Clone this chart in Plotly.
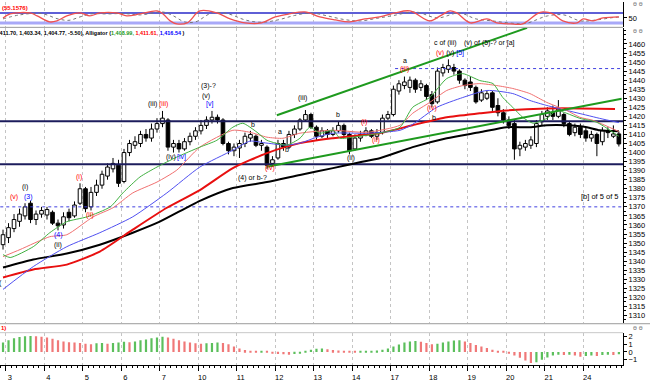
import plotly.graph_objects as go

# ---------------- data ----------------
day_labels = ["3", "4", "5", "6", "7", "10", "11", "12", "13", "14",
              "17", "18", "19", "20", "21", "24"]

bar_open = [1349.1, 1353.0, 1358.0, 1362.0, 1365.0, 1372.0, 1363.0, 1366.0, 1365.5, 1367.0,
            1361.0, 1360.0, 1367.0, 1365.0, 1372.0, 1380.0, 1370.0, 1378.0, 1382.0, 1387.0,
            1391.0, 1393.0, 1384.0, 1400.0, 1404.0, 1405.0, 1410.0, 1408.0, 1413.0, 1416.0,
            1418.0, 1403.0, 1405.0, 1402.0, 1406.0, 1409.0, 1412.0, 1415.0, 1418.0, 1419.5,
            1418.0, 1405.0, 1401.0, 1402.5, 1405.0, 1408.0, 1409.0, 1404.0, 1403.0, 1394.0,
            1397.0, 1405.0, 1403.0, 1410.0, 1413.0, 1418.0, 1421.0, 1414.0, 1409.0, 1412.0,
            1410.0, 1412.0, 1415.0, 1410.0, 1402.0, 1408.0, 1410.0, 1412.0, 1409.0, 1411.0,
            1419.0, 1421.0, 1434.0, 1437.0, 1436.0, 1440.0, 1436.0, 1437.0, 1432.0, 1428.0,
            1444.0, 1446.0, 1447.0, 1445.0, 1440.0, 1439.0, 1436.0, 1429.0, 1430.0, 1433.0,
            1426.0, 1422.0, 1418.0, 1416.0, 1402.0, 1403.0, 1404.0, 1405.0, 1417.0, 1420.0,
            1422.0, 1420.0, 1421.0, 1416.0, 1411.0, 1414.0, 1412.0, 1408.0, 1410.0, 1406.0,
            1412.0, 1409.0, 1410.3]
bar_high = [1357.4, 1361.0, 1366.0, 1369.0, 1372.0, 1373.5, 1368.0, 1370.0, 1370.0, 1368.0,
            1363.0, 1367.0, 1369.0, 1373.0, 1383.0, 1381.0, 1381.0, 1385.0, 1390.0, 1394.0,
            1397.0, 1396.0, 1402.0, 1407.0, 1409.0, 1412.0, 1413.0, 1416.0, 1419.0, 1423.0,
            1419.0, 1407.0, 1407.0, 1408.0, 1411.0, 1414.0, 1418.0, 1420.0, 1423.0, 1421.0,
            1419.0, 1406.0, 1405.0, 1407.0, 1411.0, 1412.0, 1410.0, 1407.0, 1404.0, 1398.0,
            1407.0, 1407.0, 1412.0, 1415.0, 1419.0, 1423.5, 1422.0, 1415.0, 1414.0, 1413.0,
            1414.0, 1417.0, 1416.0, 1411.0, 1410.0, 1412.0, 1414.0, 1413.0, 1413.0, 1421.0,
            1423.0, 1437.0, 1440.0, 1442.0, 1442.0, 1441.0, 1440.0, 1438.0, 1434.0, 1447.0,
            1449.0, 1451.5, 1449.0, 1446.0, 1441.0, 1442.0, 1437.0, 1435.0, 1434.0, 1434.0,
            1430.0, 1424.0, 1420.0, 1418.0, 1406.0, 1407.0, 1409.0, 1418.0, 1423.0, 1425.0,
            1426.0, 1429.0, 1422.0, 1417.0, 1416.0, 1416.0, 1414.0, 1412.0, 1411.0, 1414.0,
            1414.0, 1415.0, 1411.70]
bar_low = [1346.4, 1350.0, 1356.0, 1359.0, 1363.0, 1361.0, 1360.0, 1364.0, 1363.0, 1360.0,
           1357.0, 1358.0, 1362.0, 1364.0, 1371.0, 1367.0, 1368.0, 1376.0, 1380.0, 1385.0,
           1389.0, 1381.0, 1383.0, 1398.0, 1402.0, 1403.0, 1406.0, 1406.0, 1411.0, 1414.0,
           1401.0, 1400.0, 1400.0, 1401.0, 1404.0, 1407.0, 1410.0, 1413.0, 1416.0, 1416.0,
           1404.0, 1399.0, 1398.0, 1397.0, 1403.0, 1406.0, 1403.0, 1401.0, 1391.0, 1392.0,
           1396.0, 1401.0, 1402.0, 1408.0, 1412.0, 1417.0, 1413.0, 1407.0, 1408.0, 1408.0,
           1409.0, 1411.0, 1409.0, 1399.0, 1401.0, 1406.0, 1409.0, 1408.0, 1407.0, 1410.0,
           1418.0, 1420.0, 1432.0, 1435.0, 1433.0, 1433.0, 1434.0, 1429.0, 1425.0, 1427.0,
           1442.0, 1444.0, 1443.0, 1438.0, 1435.0, 1434.0, 1427.0, 1428.0, 1429.0, 1423.0,
           1420.0, 1416.0, 1413.0, 1396.0, 1398.0, 1401.0, 1402.0, 1403.0, 1415.0, 1418.0,
           1418.0, 1419.0, 1414.0, 1409.0, 1409.0, 1408.0, 1406.0, 1406.0, 1398.0, 1404.0,
           1408.0, 1408.0, 1403.34]
bar_close = [1354.6, 1358.5, 1363.0, 1366.0, 1370.0, 1363.0, 1366.0, 1368.0, 1368.5, 1361.0,
             1359.5, 1364.5, 1364.0, 1371.0, 1380.0, 1369.0, 1378.0, 1382.0, 1388.0, 1392.0,
             1394.0, 1383.0, 1400.0, 1405.0, 1406.0, 1410.0, 1408.0, 1413.0, 1416.0, 1419.0,
             1403.0, 1405.0, 1402.0, 1406.0, 1409.0, 1412.0, 1415.0, 1418.0, 1419.5, 1418.0,
             1405.0, 1401.0, 1403.0, 1405.0, 1409.0, 1410.0, 1404.0, 1405.0, 1393.0, 1396.0,
             1405.0, 1403.0, 1410.0, 1413.0, 1418.0, 1421.0, 1414.0, 1409.0, 1412.0, 1410.0,
             1412.0, 1415.0, 1410.0, 1401.0, 1408.0, 1410.0, 1412.0, 1409.0, 1411.0, 1419.0,
             1421.0, 1435.0, 1438.0, 1439.0, 1440.0, 1435.0, 1438.0, 1431.0, 1427.0, 1445.0,
             1447.0, 1448.0, 1445.0, 1440.0, 1437.0, 1436.0, 1428.0, 1433.0, 1432.5, 1425.0,
             1422.0, 1418.0, 1415.0, 1402.0, 1404.0, 1405.0, 1407.0, 1416.0, 1421.0, 1423.0,
             1420.0, 1424.0, 1416.0, 1410.0, 1414.0, 1410.0, 1408.0, 1410.0, 1405.0, 1412.0,
             1411.0, 1410.27, 1404.77]

# Alligator lines (bar position, value)
lips_x = [0, 1.3, 5.5, 8.5, 11.6, 15.3, 19.5, 21.8, 24.9, 28, 31.6, 35.8, 38.9, 41.8, 43.6,
          46.2, 48, 51.6, 54, 55.8, 57.6, 60, 61.3, 63.6, 68.5, 72.2, 74.5, 77.6, 80.7, 83.6,
          86.7, 89.1, 90.9, 92.7, 94.5, 96.4, 98.9, 100.7, 102.5, 104.9, 108, 112]
lips_y = [1343.6, 1342.0, 1348.0, 1355.7, 1361.8, 1364.5, 1370.0, 1377.7, 1386.5, 1392.0,
          1397.5, 1403.0, 1406.8, 1414.0, 1416.2, 1411.2, 1406.8, 1404.1, 1407.9, 1414.0,
          1410.7, 1412.3, 1407.9, 1408.5, 1410.7, 1414.0, 1425.0, 1430.4, 1440.9, 1443.6,
          1439.8, 1438.1, 1430.4, 1425.0, 1419.5, 1416.2, 1418.9, 1423.3, 1421.7, 1418.9,
          1416.7, 1408.99]
teeth_x = [0, 3.1, 8.5, 11.6, 16.4, 20, 23.6, 28, 31.6, 35.8, 41.8, 44.9, 48, 50.9, 54, 60,
           66.2, 72.2, 74.5, 77.6, 80.7, 83.6, 86.7, 89.8, 92.7, 95.8, 98.9, 102.5, 104.9,
           107.3, 112]
teeth_y = [1342.5, 1346.4, 1353.5, 1354.6, 1364.5, 1369.5, 1377.7, 1383.7, 1390.3, 1403.0,
           1412.3, 1411.2, 1408.5, 1407.9, 1410.7, 1412.3, 1411.2, 1415.1, 1421.7, 1427.7,
           1434.3, 1437.0, 1438.1, 1437.0, 1435.4, 1432.6, 1427.7, 1423.3, 1419.5, 1417.8,
           1411.61]
jaw_x = [0, 5.5, 11.6, 17.6, 23.6, 29.8, 35.8, 41.8, 44.9, 48, 51.6, 54, 57.1, 60, 66.2,
         72.2, 74.5, 78.9, 83.6, 88, 92.7, 95.8, 98.9, 102.5, 106.2, 108.5, 112]
jaw_y = [1324.4, 1337.0, 1348.0, 1355.7, 1364.5, 1377.7, 1392.0, 1401.3, 1406.3, 1405.2,
         1404.1, 1405.2, 1408.5, 1410.7, 1410.7, 1412.3, 1415.6, 1425.0, 1430.4, 1434.3,
         1432.6, 1428.8, 1426.0, 1423.3, 1420.6, 1418.9, 1416.54]

# longer moving averages
ma_red_x = [0, 5.5, 11.6, 17.6, 23.6, 29.8, 35.8, 41.8, 48, 54, 60, 64.9, 68.5, 74.5, 80.7,
            86.7, 91.6, 98.9, 104.9, 111.3]
ma_red_y = [1331.0, 1335.4, 1338.1, 1345.3, 1357.4, 1369.5, 1379.3, 1391.4, 1399.7, 1405.2,
            1407.9, 1409.6, 1410.7, 1415.1, 1419.5, 1421.7, 1423.3, 1424.4, 1424.4, 1424.0]
ma_black_x = [0, 5.5, 11.6, 17.6, 23.6, 28.5, 35.8, 41.8, 48, 54, 60, 64.9, 68.5, 74.5,
              80.7, 86.7, 91.6, 95.8, 98.9, 102.5, 106.2, 108.5, 112]
ma_black_y = [1336.5, 1340.9, 1344.2, 1349.1, 1355.7, 1361.8, 1373.3, 1380.4, 1383.7, 1387.6,
              1391.4, 1394.7, 1396.9, 1403.0, 1407.9, 1411.2, 1414.0, 1414.0, 1415.1, 1415.1,
              1414.0, 1412.3, 1411.8]

# trend lines and levels
trend_upper_x = [49.8, 95.3]
trend_upper_y = [1420.6, 1468.9]
trend_lower_x = [48.0, 112.5]
trend_lower_y = [1392.2, 1429.7]
solid_levels = [1417.3, 1393.6]
dotted_levels = [1446.4, 1370.0]
dotted_from = [71.3, -0.5]

# oscillator (top panel)
osc_x = [0, 1.3, 4.9, 6.2, 8.5, 9.8, 11.6, 14, 15.8, 17.6, 20.7, 22.5, 24.9, 28, 29.1, 30.4,
         31.6, 33.5, 35.8, 38.9, 41.3, 44, 47, 49.5, 52, 54.9, 57.6, 60.4, 63, 65.8, 68.5,
         71.3, 74, 77.6, 79.5, 81.3, 82.5, 85, 88, 89.8, 92.2, 94.5, 97.1, 98.2, 100, 101.8,
         104.4, 105.5, 107.3, 109.1, 112]
osc_y = [50, 70, 75, 60, 30, 35, 60, 75, 60, 75, 75, 60, 70, 85, 70, 35, 20, 25, 85, 75, 45,
         25, 25, 55, 70, 80, 55, 40, 30, 45, 55, 75, 85, 35, 60, 85, 75, 25, 45, 25, 20, 20,
         70, 80, 70, 35, 25, 45, 35, 50, 55.1576]
sig_x = [0, 3, 7, 10, 12, 14, 16, 19, 22, 25, 29, 31, 33, 35, 38, 41, 44, 47, 50, 53, 56, 59,
         62, 65, 68, 71, 75, 79, 83, 86, 89, 92, 95, 99, 102, 105, 108, 111, 112]
sig_y = [45, 65, 72, 45, 38, 55, 70, 70, 72, 65, 80, 60, 30, 30, 75, 70, 40, 28, 40, 62, 75,
         60, 42, 35, 48, 62, 80, 50, 75, 45, 35, 25, 22, 60, 65, 35, 40, 52, 54]
osc_levels = [75, 25]

# awesome oscillator (bottom panel)
ao_values = [1.2, 1.5, 1.75, 1.9, 2.0, 2.05, 2.0, 1.95, 1.85, 1.7, 1.5, 1.35, 1.25, 1.2, 1.15,
             1.05, 1.0, 1.1, 1.15, 1.05, 1.15, 1.2, 1.3, 1.25, 1.35, 1.5, 1.6, 1.75, 1.85, 1.95,
             1.85, 1.7, 1.5, 1.35, 1.2, 1.1, 1.05, 1.1, 1.15, 1.2, 1.15, 1.0, 0.7, 0.45, 0.25,
             0.15, 0.12, 0.13, 0.08, -0.1, -0.25, -0.3, -0.35, -0.25, -0.1, 0.15, 0.3, 0.4,
             0.45, 0.35, 0.25, 0.2, 0.15, 0.1, 0.08, 0.1, 0.12, 0.15, 0.2, 0.3, 0.45, 0.7, 0.95,
             1.2, 1.35, 1.4, 1.3, 1.15, 1.0, 1.05, 1.2, 1.35, 1.45, 1.5, 1.35, 1.15, 0.9, 0.7,
             0.5, 0.3, 0.15, 0.05, -0.15, -0.45, -0.75, -1.1, -1.4, -1.3, -1.0, -0.7, -0.45,
             -0.35, -0.4, -0.35, -0.45, -0.6, -0.5, -0.45, -0.5, -0.4, -0.35, -0.38, -0.3]

# wave labels: text, bar position, price, colour
wave_text = ["(i)", "(v)", "(3)", "(4)", "(ii)", "(i)", "(ii)", "(iii)", "(iii)", "(iv)",
             "[iv]", "(3)-?", "(v)", "[v]", "b", "a", "b", "(iv)", "(4) or b-?", "(iii)", "b",
             "(ii)", "(i)", "(ii)", "a", "(iii)", "(iv)", "b", "c of (iii)",
             "(v) of (5)-? or [a]", "("]
wave_x = [4.0, 2.0, 4.6, 10.0, 10.0, 13.8, 15.8, 27.1, 29.1, 30.5, 32.4, 37.3, 36.9, 37.6,
          45.5, 50.4, 51.6, 48.6, 45.3, 54.5, 60.9, 63.3, 65.6, 67.8, 73.1, 73.1, 78.0, 78.3,
          80.5, 88.5, -0.4]
wave_y = [1381.0, 1375.5, 1375.5, 1354.2, 1348.8, 1386.5, 1365.6, 1427.1, 1427.1, 1397.5,
          1397.5, 1437.0, 1431.5, 1427.1, 1415.6, 1411.8, 1401.9, 1391.3, 1386.0, 1430.4,
          1421.1, 1396.9, 1416.7, 1406.8, 1450.8, 1446.2, 1424.6, 1419.5, 1460.7, 1460.7,
          1328.2]
wave_color = ["black", "red", "blue", "blue", "black", "red", "red", "black", "red", "black",
              "blue", "black", "black", "blue", "black", "black", "black", "red", "black",
              "black", "black", "black", "red", "red", "black", "red", "red", "black", "black",
              "black", "black"]

# ---------------- figure ----------------
H_PLOT = 366.0  # plot area height in px (margin b=16)


def py(p):
    return (H_PLOT - p) / H_PLOT


n = len(bar_close)
idx = list(range(n))
fig = go.Figure()

# candle bodies
body_base = [min(o, c) for o, c in zip(bar_open, bar_close)]
body_h = [abs(c - o) for o, c in zip(bar_open, bar_close)]
body_fill = ["white" if c >= o else "black" for o, c in zip(bar_open, bar_close)]
fig.add_trace(go.Bar(x=idx, y=body_h, base=body_base, width=0.66, yaxis="y2",
                     marker=dict(color=body_fill, line=dict(color="black", width=1)),
                     hoverinfo="skip", showlegend=False))
# wicks (outside the bodies)
wx, wy = [], []
for i, o, h, l, c in zip(idx, bar_open, bar_high, bar_low, bar_close):
    wx += [i, i, None, i, i, None]
    wy += [l, min(o, c), None, max(o, c), h, None]
fig.add_trace(go.Scatter(x=wx, y=wy, mode="lines", yaxis="y2",
                         line=dict(color="black", width=1), hoverinfo="skip", showlegend=False))

x_lo, x_hi = -0.55, 112.75

# levels
for lv in solid_levels:
    fig.add_trace(go.Scatter(x=[x_lo, x_hi], y=[lv, lv], mode="lines", yaxis="y2",
                             line=dict(color="#1c1c5c", width=2), showlegend=False))
for lv, x0 in zip(dotted_levels, dotted_from):
    fig.add_trace(go.Scatter(x=[x0, x_hi], y=[lv, lv], mode="lines", yaxis="y2",
                             line=dict(color="#4040e0", width=1, dash="dot"), showlegend=False))

# moving averages
for xs, ys, col, w in [(ma_black_x, ma_black_y, "black", 2),
                       (ma_red_x, ma_red_y, "#e81010", 2),
                       (jaw_x, jaw_y, "#5050f0", 1),
                       (teeth_x, teeth_y, "#f07070", 1),
                       (lips_x, lips_y, "#40b040", 1)]:
    fig.add_trace(go.Scatter(x=xs, y=ys, mode="lines", yaxis="y2",
                             line=dict(color=col, width=w, shape="spline", smoothing=0.6),
                             showlegend=False))

# trend lines
for xs, ys in [(trend_upper_x, trend_upper_y), (trend_lower_x, trend_lower_y)]:
    fig.add_trace(go.Scatter(x=xs, y=ys, mode="lines", yaxis="y2",
                             line=dict(color="#1e9a1e", width=2), showlegend=False))

# oscillator panel
for lv, col, w in zip(osc_levels, ["#2a2ac8", "#a8a8f8"], [1.5, 3]):
    fig.add_trace(go.Scatter(x=[x_lo, x_hi], y=[lv, lv], mode="lines", yaxis="y",
                             line=dict(color=col, width=w), showlegend=False))
fig.add_trace(go.Scatter(x=sig_x, y=sig_y, mode="lines", yaxis="y",
                         line=dict(color="#777777", width=1, dash="dot", shape="spline"),
                         showlegend=False))
fig.add_trace(go.Scatter(x=osc_x, y=osc_y, mode="lines", yaxis="y",
                         line=dict(color="#f05050", width=1.3, shape="spline"), showlegend=False))

# AO histogram
ao_col = []
for k, v in enumerate(ao_values):
    up = k == 0 or v >= ao_values[k - 1]
    ao_col.append("#5cbf5c" if up else "#f07878")
fig.add_trace(go.Bar(x=idx, y=ao_values, width=0.4, yaxis="y3", marker=dict(color=ao_col, line_width=0),
                     showlegend=False, hoverinfo="skip"))

FONT = "Liberation Sans, Arial, sans-serif"
ann = []
for t, x, y, c in zip(wave_text, wave_x, wave_y, wave_color):
    ann.append(dict(x=x, y=y, xref="x", yref="y2", text=t, showarrow=False,
                    font=dict(family=FONT, size=7, color=c), xanchor="center", yanchor="middle"))
# (v) (v) [5] group
ann.append(dict(x=81.3, y=1455.2, xref="x", yref="y2", showarrow=False,
                text="<span style='color:red'>(v)</span> <span style='color:black'>(v)</span> "
                     "<span style='color:blue'>[5]</span>",
                font=dict(family=FONT, size=7), xanchor="center", yanchor="middle"))
ann.append(dict(x=112.4, y=1375.5, xref="x", yref="y2", text="[b] of 5 of 5", showarrow=False,
                font=dict(family=FONT, size=7.5, color="black"), xanchor="right", yanchor="middle"))

hdr = (f"<b>{bar_high[-1]:,.2f}, {bar_low[-1]:,.2f}, {bar_close[-1]:,.2f}, "
       f"{bar_close[-1] - bar_close[-2]:.2f}), Alligator ("
       f"<span style='color:#1a9a1a'>{lips_y[-1]:,.2f}, </span>"
       f"<span style='color:red'>{teeth_y[-1]:,.2f}, </span>"
       f"<span style='color:blue'>{jaw_y[-1]:,.2f} </span>)</b>")
ann.append(dict(x=0, y=py(32), xref="paper", yref="paper", text=hdr, showarrow=False,
                xanchor="left", yanchor="middle", xshift=-7, font=dict(family=FONT, size=5.5, color="black")))
ann.append(dict(x=0, y=py(7), xref="paper", yref="paper", text=f"<b>({osc_y[-1]:.4f})</b>",
                showarrow=False, xanchor="left", yanchor="middle", font=dict(family=FONT, size=6, color="red")))
ann.append(dict(x=0, y=py(329), xref="paper", yref="paper", text="<b>1)</b>",
                showarrow=False, xanchor="left", yanchor="middle", xshift=-1, font=dict(family=FONT, size=6, color="red")))
for p in (3, 30, 328):
    ann.append(dict(x=1.0, y=py(p), xref="paper", yref="paper", text="ɵ ɵ", showarrow=False,
                    xanchor="left", yanchor="middle", xshift=8, font=dict(family=FONT, size=7, color="#888888")))

shapes = []
for p, col in [(26.5, "#9a9a9a"), (324.5, "#9a9a9a"), (333.5, "#c8c8c8")]:
    shapes.append(dict(type="line", xref="paper", yref="paper", x0=0, x1=1, y0=py(p), y1=py(p),
                       line=dict(color=col, width=1)))
shapes.append(dict(type="line", xref="paper", yref="paper", x0=1, x1=1.05, y0=py(324.5), y1=py(324.5),
                   line=dict(color="#9a9a9a", width=1)))

tick_pos = [0.5 + 7 * k for k in range(len(day_labels))]
yax_common = dict(side="right", anchor="x", showgrid=False, zeroline=False, showline=True,
                  linecolor="black", linewidth=1, ticks="outside", ticklen=3, tickcolor="black",
                  tickfont=dict(family=FONT, size=7.5, color="black"))

fig.update_layout(
    width=650, height=382, margin=dict(l=0, r=27, t=0, b=16),
    paper_bgcolor="white", plot_bgcolor="white", barmode="overlay", showlegend=False,
    font=dict(family=FONT, size=8),
    xaxis=dict(domain=[0, 1], range=[x_lo, x_hi], anchor="y3", tickvals=tick_pos, ticktext=day_labels,
               ticks="outside", ticklen=5, tickcolor="black", showline=True, linecolor="black",
               showgrid=True, gridcolor="#c4c4c4", griddash="dot", gridwidth=1, zeroline=False,
               tickfont=dict(family=FONT, size=7.5, color="black"), ticklabelshift=4, ticklabelstandoff=0,
               minor=dict(dtick=1, tick0=0.5, ticks="outside", ticklen=2, tickcolor="black", showgrid=False)),
    yaxis=dict(domain=[py(26), py(1)], range=[5, 130], tickvals=[50], **yax_common),
    yaxis2=dict(domain=[py(324), py(27)], range=[1305.7, 1468.9],
                tickvals=list(range(1310, 1461, 5)),
                minor=dict(dtick=2.5, ticks="outside", ticklen=2, tickcolor="black"), **yax_common),
    yaxis3=dict(domain=[0, py(333.5)], range=[-1.66, 2.46], tickvals=[-1, 0, 1, 2], **yax_common),
    annotations=ann, shapes=shapes,
)

fig.write_html("out.html", config={"displayModeBar": False},
               post_script="document.body.style.margin='0';")
